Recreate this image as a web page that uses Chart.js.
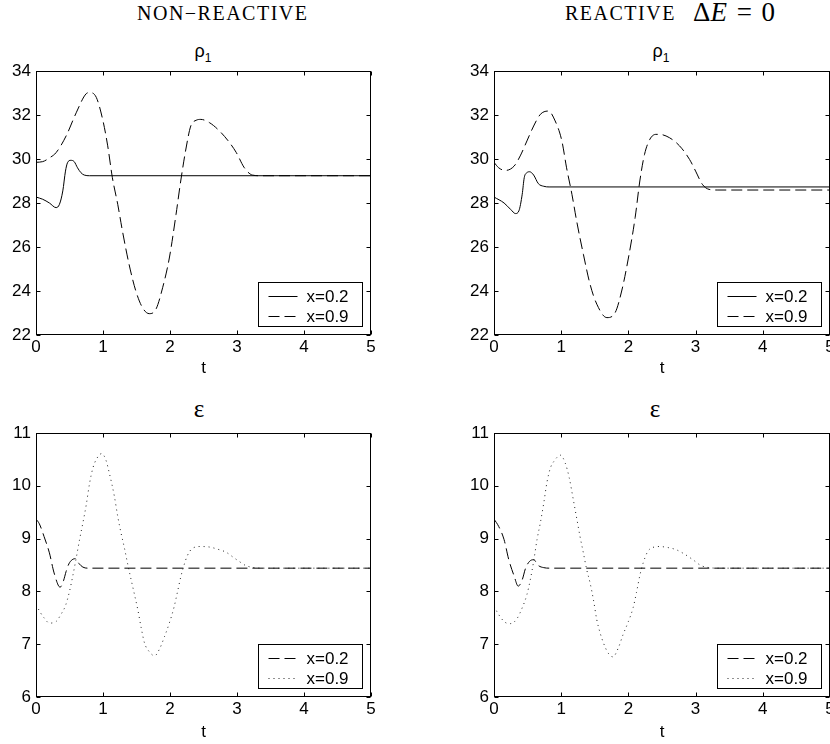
<!DOCTYPE html>
<html lang="en">
<head>
<meta charset="UTF-8">
<script src="https://cdn.jsdelivr.net/npm/chart.js"></script>
<title>rho1 and epsilon</title>
<style>
    body { margin: 0; width: 830px; height: 744px; overflow: hidden; background: #fff; position: relative; }
    canvas { position: absolute; }
    .head { position: absolute; white-space: nowrap; font-family: "Liberation Serif", "DejaVu Serif", serif; color: #000; }
    .sub { position: absolute; white-space: nowrap; color: #000; text-align: center; }
</style>
</head>
<body>
<div class="head" style="left:137px;top:2px;font-size:20px;letter-spacing:1.5px">NON−REACTIVE</div>
<div class="head" style="left:565px;top:2px;font-size:20px;letter-spacing:1.5px">REACTIVE</div>
<div class="head" style="left:693px;top:-3px;font-size:27px;word-spacing:3px">Δ<i>E</i> = 0</div>

<div class="sub" style="left:153px;top:41px;width:100px;font:18px 'Liberation Sans', Arial">ρ<sub style="font-size:12px">1</sub></div>
<div class="sub" style="left:611px;top:41px;width:100px;font:18px 'Liberation Sans', Arial">ρ<sub style="font-size:12px">1</sub></div>
<div class="sub" style="left:149px;top:395px;width:100px;font:25px 'Liberation Serif', serif">ε</div>
<div class="sub" style="left:605px;top:395px;width:100px;font:25px 'Liberation Serif', serif">ε</div>

<canvas id="rhoL" width="415" height="380" style="left:0;top:0"></canvas>
<canvas id="rhoR" width="440" height="380" style="left:415px;top:0"></canvas>
<canvas id="epsL" width="415" height="364" style="left:0;top:380px"></canvas>
<canvas id="epsR" width="440" height="364" style="left:415px;top:380px"></canvas>

<script>
    // rho_1, non-reactive
    var tRhoA02 = [0, 0.1, 0.2, 0.3, 0.35, 0.4, 0.44, 0.47, 0.52, 0.57, 0.62, 0.67, 0.72, 0.8, 5];
    var rhoA02 = [28.27, 28.17, 28.0, 27.79, 27.94, 28.55, 29.45, 29.83, 29.94, 29.88, 29.6, 29.38, 29.27, 29.24, 29.24];
    var tRhoA09 = [0, 0.1, 0.2, 0.3, 0.45, 0.6, 0.75, 0.8, 0.9, 1.0, 1.07, 1.14, 1.22, 1.29, 1.39, 1.49, 1.59, 1.69, 1.79, 1.89, 1.99, 2.09, 2.16, 2.24, 2.31, 2.39, 2.46, 2.59, 2.74, 2.89, 2.99, 3.11, 3.23, 3.35, 5];
    var rhoA09 = [29.85, 29.88, 30.05, 30.29, 31.05, 32.1, 32.97, 33.02, 32.8, 31.73, 30.6, 29.15, 27.94, 26.73, 25.2, 24.0, 23.24, 22.97, 23.17, 24.15, 25.5, 27.48, 29.0, 30.5, 31.5, 31.76, 31.8, 31.65, 31.27, 30.74, 30.29, 29.6, 29.27, 29.24, 29.24];

    // rho_1, reactive dE = 0
    var tRhoB02 = [0, 0.15, 0.25, 0.32, 0.37, 0.42, 0.45, 0.49, 0.53, 0.59, 0.66, 0.74, 0.82, 5];
    var rhoB02 = [28.27, 28.0, 27.7, 27.52, 27.64, 28.4, 29.15, 29.38, 29.42, 29.27, 28.88, 28.76, 28.73, 28.73];
    var tRhoB09 = [0, 0.07, 0.17, 0.3, 0.39, 0.49, 0.59, 0.69, 0.81, 0.91, 1.01, 1.08, 1.16, 1.23, 1.33, 1.43, 1.53, 1.68, 1.8, 1.9, 2.0, 2.1, 2.17, 2.24, 2.32, 2.41, 2.46, 2.61, 2.76, 2.91, 3.0, 3.1, 3.2, 3.32, 5];
    var rhoB09 = [29.85, 29.6, 29.48, 29.68, 30.14, 30.82, 31.5, 32.03, 32.18, 31.73, 30.82, 29.6, 28.39, 27.18, 25.67, 24.3, 23.4, 22.79, 23.0, 24.0, 25.5, 27.33, 29.0, 30.21, 30.9, 31.12, 31.12, 30.97, 30.6, 29.98, 29.45, 28.85, 28.62, 28.59, 28.59];

    // epsilon, non-reactive
    var tEpsA02 = [0, 0.05, 0.12, 0.2, 0.27, 0.36, 0.41, 0.45, 0.49, 0.54, 0.59, 0.64, 0.7, 0.78, 5];
    var epsA02 = [9.37, 9.28, 9.04, 8.73, 8.35, 8.08, 8.2, 8.38, 8.52, 8.6, 8.62, 8.53, 8.46, 8.44, 8.44];
    var tEpsA09 = [0, 0.07, 0.12, 0.2, 0.3, 0.37, 0.44, 0.5, 0.55, 0.6, 0.65, 0.7, 0.75, 0.8, 0.85, 0.9, 0.98, 1.04, 1.1, 1.17, 1.22, 1.27, 1.32, 1.37, 1.42, 1.47, 1.52, 1.57, 1.62, 1.69, 1.77, 1.84, 1.92, 1.99, 2.06, 2.11, 2.16, 2.21, 2.26, 2.34, 2.46, 2.59, 2.71, 2.84, 2.94, 3.03, 3.13, 3.26, 3.4, 5];
    var epsA09 = [7.75, 7.59, 7.5, 7.4, 7.43, 7.56, 7.73, 8.0, 8.3, 8.63, 8.98, 9.3, 9.64, 10.05, 10.34, 10.5, 10.61, 10.5, 10.21, 9.8, 9.42, 9.1, 8.82, 8.51, 8.22, 7.94, 7.65, 7.31, 7.02, 6.86, 6.78, 6.9, 7.15, 7.4, 7.7, 7.98, 8.27, 8.5, 8.68, 8.82, 8.85, 8.84, 8.8, 8.74, 8.65, 8.57, 8.49, 8.45, 8.44, 8.44];

    // epsilon, reactive dE = 0
    var tEpsB02 = [0, 0.07, 0.15, 0.22, 0.3, 0.36, 0.42, 0.47, 0.53, 0.59, 0.66, 0.74, 0.82, 5];
    var epsB02 = [9.37, 9.23, 8.98, 8.6, 8.29, 8.1, 8.22, 8.44, 8.57, 8.6, 8.49, 8.45, 8.44, 8.44];
    var tEpsB09 = [0, 0.07, 0.17, 0.25, 0.34, 0.42, 0.49, 0.54, 0.59, 0.64, 0.69, 0.74, 0.79, 0.84, 0.89, 0.99, 1.06, 1.12, 1.18, 1.23, 1.28, 1.33, 1.38, 1.43, 1.48, 1.53, 1.58, 1.63, 1.7, 1.77, 1.85, 1.92, 2.0, 2.07, 2.12, 2.17, 2.22, 2.29, 2.36, 2.46, 2.59, 2.71, 2.83, 2.96, 3.08, 3.2, 3.35, 5];
    var epsB09 = [7.72, 7.56, 7.41, 7.39, 7.48, 7.69, 7.94, 8.22, 8.57, 8.98, 9.3, 9.67, 10.08, 10.34, 10.46, 10.58, 10.43, 10.15, 9.74, 9.39, 9.04, 8.73, 8.41, 8.16, 7.84, 7.46, 7.21, 7.02, 6.83, 6.76, 6.93, 7.18, 7.43, 7.69, 7.98, 8.3, 8.54, 8.76, 8.83, 8.85, 8.83, 8.79, 8.71, 8.6, 8.49, 8.45, 8.44, 8.44];

    var labels = ['x=0.2', 'x=0.9'];
    var SOLID = [], DASH = [11, 5], DOT = [1, 4];
    var FONT = { family: "'Liberation Sans', Arial, sans-serif", size: 17 };

    function pts(ts, vs) {
        return ts.map(function (t, i) { return { x: t, y: vs[i] }; });
    }

    function line(label, ts, vs, dash, order) {
        return {
            label: label,
            data: pts(ts, vs),
            borderColor: dash === DOT ? '#222' : '#000',
            borderWidth: 1,
            borderDash: dash,
            pointRadius: 0,
            cubicInterpolationMode: 'monotone',
            order: order
        };
    }

    // matlab-like box: frame, inward ticks on all sides, legend in the lower right corner
    var boxPlugin = {
        id: 'boxPlugin',
        afterDraw: function (chart) {
            var ctx = chart.ctx, a = chart.chartArea;
            var sx = chart.scales.x, sy = chart.scales.y;
            var L = Math.round(a.left) + 0.5, R = Math.round(a.right) - 0.5;
            var T = Math.round(a.top) + 0.5, B = Math.round(a.bottom) - 0.5;
            ctx.save();
            ctx.strokeStyle = '#000';
            ctx.lineWidth = 1;
            ctx.setLineDash([]);
            ctx.strokeRect(L, T, R - L, B - T);
            ctx.beginPath();
            sx.ticks.forEach(function (tk) {
                var px = Math.round(sx.getPixelForValue(tk.value)) + 0.5;
                ctx.moveTo(px, B); ctx.lineTo(px, B - 4);
                ctx.moveTo(px, T); ctx.lineTo(px, T + 4);
            });
            sy.ticks.forEach(function (tk) {
                var py = Math.round(sy.getPixelForValue(tk.value)) + 0.5;
                ctx.moveTo(L, py); ctx.lineTo(L + 4, py);
                ctx.moveTo(R, py); ctx.lineTo(R - 4, py);
            });
            ctx.stroke();

            // legend
            var w = 104, h = 44;
            var lx = Math.round(a.right - 9 - w) + 0.5, ly = Math.round(a.bottom - 9 - h) + 0.5;
            ctx.fillStyle = '#fff';
            ctx.fillRect(lx, ly, w, h);
            ctx.strokeRect(lx, ly, w, h);
            ctx.font = FONT.size + 'px ' + FONT.family;
            ctx.textBaseline = 'middle';
            ctx.fillStyle = '#000';
            chart.data.datasets.slice().sort(function (p, q) { return p.label < q.label ? -1 : 1; }).forEach(function (ds, i) {
                var yy = Math.round(ly + 13 + 20 * i) + 0.5;
                ctx.strokeStyle = ds.borderColor;
                ctx.setLineDash(ds.borderDash);
                ctx.beginPath();
                ctx.moveTo(lx + 10, yy); ctx.lineTo(lx + 39, yy);
                ctx.stroke();
                ctx.fillText(ds.label, lx + 48, yy + 1);
            });
            ctx.restore();
        }
    };

    function makeChart(id, datasets, ymin, ymax, ystep, yWidth, top, right) {
        return new Chart(document.getElementById(id), {
            type: 'line',
            data: { datasets: datasets },
            plugins: [boxPlugin],
            options: {
                responsive: false,
                animation: false,
                layout: { padding: { top: top, right: right, left: 0, bottom: 0 } },
                plugins: { legend: { display: false }, tooltip: { enabled: false } },
                scales: {
                    x: {
                        type: 'linear', min: 0, max: 5,
                        ticks: { stepSize: 1, color: '#000', font: FONT, padding: 2, maxRotation: 0 },
                        grid: { display: false, drawTicks: false },
                        border: { display: false },
                        title: { display: true, text: 't', color: '#000', font: FONT, padding: { top: 0, bottom: 1 } },
                        afterFit: function (s) { s.height = (id.indexOf('rho') === 0 ? 45 : 47); }
                    },
                    y: {
                        min: ymin, max: ymax,
                        ticks: { stepSize: ystep, color: '#000', font: FONT, padding: 5 },
                        grid: { display: false, drawTicks: false },
                        border: { display: false },
                        afterFit: function (s) { s.width = yWidth; }
                    }
                }
            }
        });
    }

    makeChart('rhoL', [
        line(labels[0], tRhoA02, rhoA02, SOLID, 1),
        line(labels[1], tRhoA09, rhoA09, DASH, 0)
    ], 22, 34, 2, 36, 71, 44);

    makeChart('rhoR', [
        line(labels[0], tRhoB02, rhoB02, SOLID, 1),
        line(labels[1], tRhoB09, rhoB09, DASH, 0)
    ], 22, 34, 2, 79, 71, 25);

    makeChart('epsL', [
        line(labels[0], tEpsA02, epsA02, DASH, 0),
        line(labels[1], tEpsA09, epsA09, DOT, 1)
    ], 6, 11, 1, 36, 53, 44);

    makeChart('epsR', [
        line(labels[0], tEpsB02, epsB02, DASH, 0),
        line(labels[1], tEpsB09, epsB09, DOT, 1)
    ], 6, 11, 1, 79, 53, 25);
</script>
</body>
</html>
